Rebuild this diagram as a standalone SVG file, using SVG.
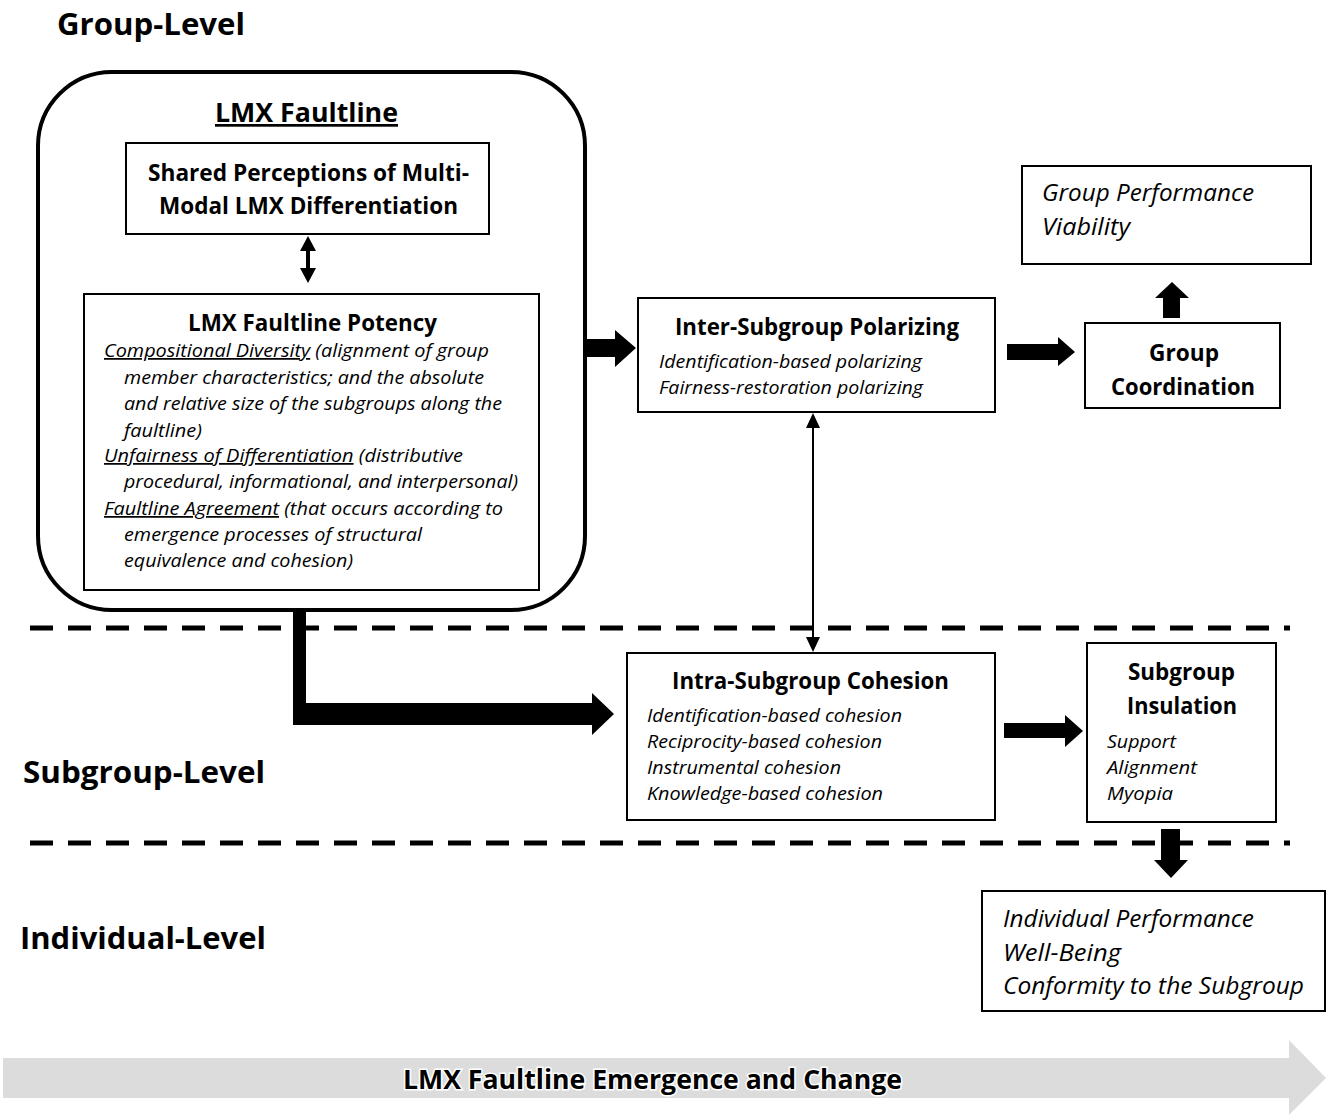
<svg xmlns="http://www.w3.org/2000/svg" width="1326" height="1115" viewBox="0 0 1326 1115">
<style>
text{font-family:"Open Sans","Liberation Sans",sans-serif;fill:#000}
.lvl{font-size:30px;font-weight:bold}
.t{font-size:23px;font-weight:bold}
.b{font-size:17.5px;font-style:italic}
.bi{font-size:23px;font-style:italic}
.u{text-decoration:underline}
.box{fill:#fff;stroke:#000;stroke-width:2}
.blk{fill:#000;stroke:none}
.dash{stroke:#000;stroke-width:5;stroke-dasharray:23 15;fill:none}
</style>
<rect width="1326" height="1115" fill="#fff"/>

<g id="levels">
<text class="lvl" x="57" y="35" textLength="188" lengthAdjust="spacingAndGlyphs">Group-Level</text>
<text class="lvl" x="23" y="783" textLength="242" lengthAdjust="spacingAndGlyphs">Subgroup-Level</text>
<text class="lvl" x="20" y="949" textLength="246" lengthAdjust="spacingAndGlyphs">Individual-Level</text>
</g>

<g id="dividers">
<line class="dash" x1="30" y1="628" x2="1290" y2="628"/>
<line class="dash" x1="30" y1="843" x2="1290" y2="843"/>
</g>

<g id="lmx-faultline">
<rect x="38" y="72" width="547" height="538" rx="74" ry="74" fill="#fff" stroke="#000" stroke-width="4"/>
<text class="u" x="215" y="122" font-size="27" font-weight="bold" textLength="183" lengthAdjust="spacingAndGlyphs">LMX Faultline</text>
</g>

<g id="shared-perceptions">
<rect class="box" x="126" y="143" width="363" height="91"/>
<text class="t" x="148" y="181" textLength="321" lengthAdjust="spacingAndGlyphs">Shared Perceptions of Multi-</text>
<text class="t" x="159" y="214" textLength="299" lengthAdjust="spacingAndGlyphs">Modal LMX Differentiation</text>
</g>

<g id="faultline-potency">
<rect class="box" x="84" y="294" width="455" height="296"/>
<text class="t" x="188" y="331" textLength="249" lengthAdjust="spacingAndGlyphs">LMX Faultline Potency</text>
<text class="b" x="104" y="357" textLength="385" lengthAdjust="spacingAndGlyphs"><tspan class="u">Compositional Diversity</tspan> (alignment of group</text>
<text class="b" x="124" y="384" textLength="360" lengthAdjust="spacingAndGlyphs">member characteristics; and the absolute</text>
<text class="b" x="124" y="410" textLength="378" lengthAdjust="spacingAndGlyphs">and relative size of the subgroups along the</text>
<text class="b" x="124" y="437" textLength="78" lengthAdjust="spacingAndGlyphs">faultline)</text>
<text class="b" x="104" y="462" textLength="359" lengthAdjust="spacingAndGlyphs"><tspan class="u">Unfairness of Differentiation</tspan> (distributive</text>
<text class="b" x="124" y="488" textLength="394" lengthAdjust="spacingAndGlyphs">procedural, informational, and interpersonal)</text>
<text class="b" x="104" y="515" textLength="399" lengthAdjust="spacingAndGlyphs"><tspan class="u">Faultline Agreement</tspan> (that occurs according to</text>
<text class="b" x="124" y="541" textLength="298" lengthAdjust="spacingAndGlyphs">emergence processes of structural</text>
<text class="b" x="124" y="567" textLength="229" lengthAdjust="spacingAndGlyphs">equivalence and cohesion)</text>
</g>

<g id="inter-subgroup">
<rect class="box" x="638" y="298" width="357" height="114"/>
<text class="t" x="675" y="335" textLength="284" lengthAdjust="spacingAndGlyphs">Inter-Subgroup Polarizing</text>
<text class="b" x="659" y="368" textLength="263" lengthAdjust="spacingAndGlyphs">Identification-based polarizing</text>
<text class="b" x="659" y="394" textLength="264" lengthAdjust="spacingAndGlyphs">Fairness-restoration polarizing</text>
</g>

<g id="group-performance">
<rect class="box" x="1022" y="166" width="289" height="98"/>
<text class="bi" x="1042" y="201" textLength="212" lengthAdjust="spacingAndGlyphs">Group Performance</text>
<text class="bi" x="1042" y="235" textLength="88" lengthAdjust="spacingAndGlyphs">Viability</text>
</g>

<g id="group-coordination">
<rect class="box" x="1085" y="323" width="195" height="85"/>
<text class="t" x="1149" y="361" textLength="70" lengthAdjust="spacingAndGlyphs">Group</text>
<text class="t" x="1111" y="395" textLength="144" lengthAdjust="spacingAndGlyphs">Coordination</text>
</g>

<g id="intra-subgroup">
<rect class="box" x="627" y="653" width="368" height="167"/>
<text class="t" x="672" y="689" textLength="277" lengthAdjust="spacingAndGlyphs">Intra-Subgroup Cohesion</text>
<text class="b" x="647" y="722" textLength="255" lengthAdjust="spacingAndGlyphs">Identification-based cohesion</text>
<text class="b" x="647" y="748" textLength="235" lengthAdjust="spacingAndGlyphs">Reciprocity-based cohesion</text>
<text class="b" x="647" y="774" textLength="194" lengthAdjust="spacingAndGlyphs">Instrumental cohesion</text>
<text class="b" x="647" y="800" textLength="236" lengthAdjust="spacingAndGlyphs">Knowledge-based cohesion</text>
</g>

<g id="subgroup-insulation">
<rect class="box" x="1087" y="643" width="189" height="179"/>
<text class="t" x="1128" y="680" textLength="107" lengthAdjust="spacingAndGlyphs">Subgroup</text>
<text class="t" x="1127" y="714" textLength="110" lengthAdjust="spacingAndGlyphs">Insulation</text>
<text class="b" x="1107" y="748" textLength="69" lengthAdjust="spacingAndGlyphs">Support</text>
<text class="b" x="1107" y="774" textLength="90" lengthAdjust="spacingAndGlyphs">Alignment</text>
<text class="b" x="1107" y="800" textLength="66" lengthAdjust="spacingAndGlyphs">Myopia</text>
</g>

<g id="individual-outcomes">
<rect class="box" x="982" y="891" width="343" height="120"/>
<text class="bi" x="1003" y="927" textLength="251" lengthAdjust="spacingAndGlyphs">Individual Performance</text>
<text class="bi" x="1003" y="961" textLength="118" lengthAdjust="spacingAndGlyphs">Well-Being</text>
<text class="bi" x="1003" y="994" textLength="301" lengthAdjust="spacingAndGlyphs">Conformity to the Subgroup</text>
</g>

<g id="connectors">
<polygon class="blk" points="308,236 300,251 306,251 306,268 300,268 308,283 316,268 310,268 310,251 316,251"/>
<polygon class="blk" points="586,339 615,339 615,330 636,348 615,367 615,357 586,357"/>
<polygon class="blk" points="1007,344 1058,344 1058,337 1075,352 1058,366 1058,360 1007,360"/>
<polygon class="blk" points="1163,318 1163,298 1155,298 1172,282 1189,298 1180,298 1180,318"/>
<polygon class="blk" points="813,413 806,428 812,428 812,637 806,637 813,652 820,637 814,637 814,428 820,428"/>
<polygon class="blk" points="293,610 306,610 306,703 592,703 592,693 614,714 592,735 592,725 293,725"/>
<polygon class="blk" points="1004,723 1065,723 1065,715 1083,731 1065,747 1065,738 1004,738"/>
<polygon class="blk" points="1161,829 1180,829 1180,860 1188,860 1171,878 1154,860 1161,860"/>
</g>

<g id="timeline">
<polygon points="3,1058 1289,1058 1289,1040 1326,1078 1289,1115 1289,1098 3,1098" fill="#dcdcdc"/>
<text x="403" y="1089" font-size="26" font-weight="bold" textLength="499" lengthAdjust="spacingAndGlyphs" stroke="#fff" stroke-width="3" paint-order="stroke">LMX Faultline Emergence and Change</text>
</g>
</svg>
